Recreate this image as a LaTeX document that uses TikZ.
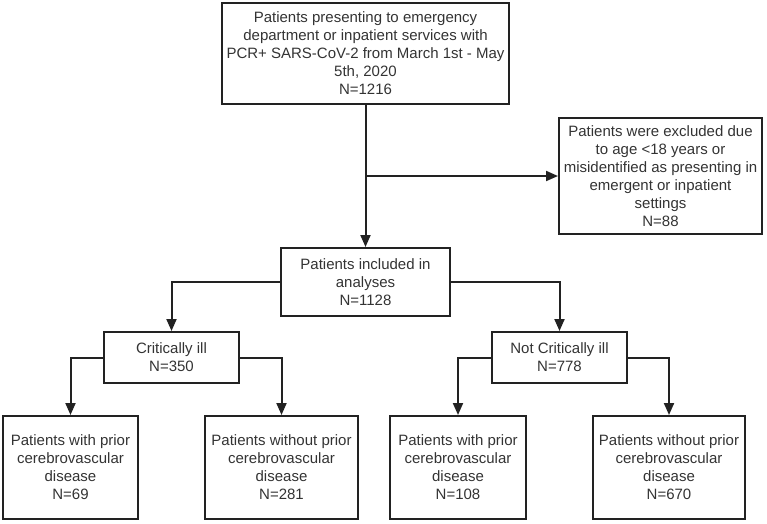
\documentclass[tikz,border=0pt]{standalone}
\usepackage{fontspec}
\setmainfont{Liberation Sans}
\usetikzlibrary{arrows.meta}
\definecolor{ink}{HTML}{222222}
\definecolor{txt}{HTML}{333333}
\begin{document}
\begin{tikzpicture}[x=1pt, y=-1pt, >={Triangle[length=12pt,width=10pt]},
  box/.style={draw=ink, line width=2pt, inner sep=0pt, align=center, text=txt,
    font=\fontsize{15}{18}\selectfont},
  link/.style={draw=ink, line width=2pt}]
\useasboundingbox (0,0) rectangle (767,523);
\node[box, minimum width=287, minimum height=101] (all) at (365.5,53.5)
  {Patients presenting to emergency\\department or inpatient services with\\PCR+ SARS-CoV-2 from March 1st - May\\5th, 2020\\N=1216};
\node[box, minimum width=203, minimum height=116] (excl) at (660.5,176)
  {Patients were excluded due\\to age <18 years or\\misidentified as presenting in\\emergent or inpatient\\settings\\N=88};
\node[box, minimum width=169, minimum height=68] (incl) at (365.5,282)
  {Patients included in\\analyses\\N=1128};
\node[box, minimum width=135, minimum height=51] (crit) at (171.5,357.5)
  {Critically ill\\N=350};
\node[box, minimum width=135, minimum height=51] (notcrit) at (559.5,357.5)
  {Not Critically ill\\N=778};
\node[box, minimum width=135, minimum height=103] (critprior) at (70.5,467.5)
  {Patients with prior\\cerebrovascular\\disease\\N=69};
\node[box, minimum width=153, minimum height=103] (critnoprior) at (281.5,467.5)
  {Patients without prior\\cerebrovascular\\disease\\N=281};
\node[box, minimum width=136, minimum height=103] (notcritprior) at (458,467.5)
  {Patients with prior\\cerebrovascular\\disease\\N=108};
\node[box, minimum width=152, minimum height=103] (notcritnoprior) at (669,467.5)
  {Patients without prior\\cerebrovascular\\disease\\N=670};
\coordinate (split) at (all.south |- excl.west);
\draw[link,->] (all.south) -- (incl.north);
\draw[link,->] (split) -- (excl.west);
\draw[link,->] (incl.west) -| (crit.north);
\draw[link,->] (incl.east) -| (notcrit.north);
\draw[link,->] (crit.west) -| (critprior.north);
\draw[link,->] (crit.east) -| (critnoprior.north);
\draw[link,->] (notcrit.west) -| (notcritprior.north);
\draw[link,->] (notcrit.east) -| (notcritnoprior.north);
\end{tikzpicture}
\end{document}
